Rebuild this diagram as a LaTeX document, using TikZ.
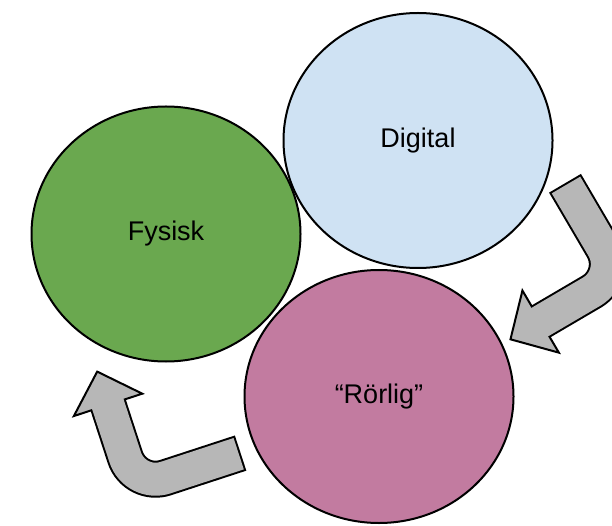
\documentclass[tikz,border=0pt]{standalone}
\usepackage{fontspec}
\setmainfont{Liberation Sans}
\usetikzlibrary{shapes.geometric}

\definecolor{digitalblue}{HTML}{CFE2F3}
\definecolor{fysiskgreen}{HTML}{6AA84F}
\definecolor{rorligpink}{HTML}{C27BA0}
\definecolor{arrowgray}{HTML}{B7B7B7}

\tikzset{
  blob/.style={ellipse, draw=black, line width=2pt, minimum width=269pt,
    minimum height=255pt, inner sep=0pt, font=\fontsize{27}{32}\selectfont},
  headtip/.style={fill=arrowgray, draw=black, line width=2pt, line join=miter},
}

% bent block arrow: tail coordinate, angle, first arm, second arm
\newcommand\bentarrow[4]{%
  \begin{scope}[shift={(#1)}, rotate=#2]
    \draw[line width=37pt, rounded corners=32pt] (-2,0) -- (#3,0) -- (#3,-#4);
    \draw[headtip] (#3-36,-#4) -- (#3+36,-#4) -- (#3,-#4-35) -- cycle;
    \draw[line width=33pt, arrowgray, rounded corners=32pt] (0,0) -- (#3,0) -- (#3,-#4-3);
  \end{scope}}

\begin{document}
\begin{tikzpicture}[x=1pt, y=1pt]
\useasboundingbox (0,0) rectangle (612,525);
\clip (0,0) rectangle (612,525);

\node[blob, fill=fysiskgreen] (fysisk) at (166,291) {Fysisk};
\node[blob, fill=digitalblue] (digital) at (418,384.5) {Digital};
\node[blob, fill=rorligpink, minimum height=253pt] (rorlig) at (379,128.5) {“Rörlig”};

%-------------------------------------
\coordinate (tailone) at (566,340);
\coordinate (tailtwo) at (238.7,71.3);

\bentarrow{tailone}{-59.6}{105}{91}
\bentarrow{tailtwo}{198.1}{109}{87}

\end{tikzpicture}
\end{document}
